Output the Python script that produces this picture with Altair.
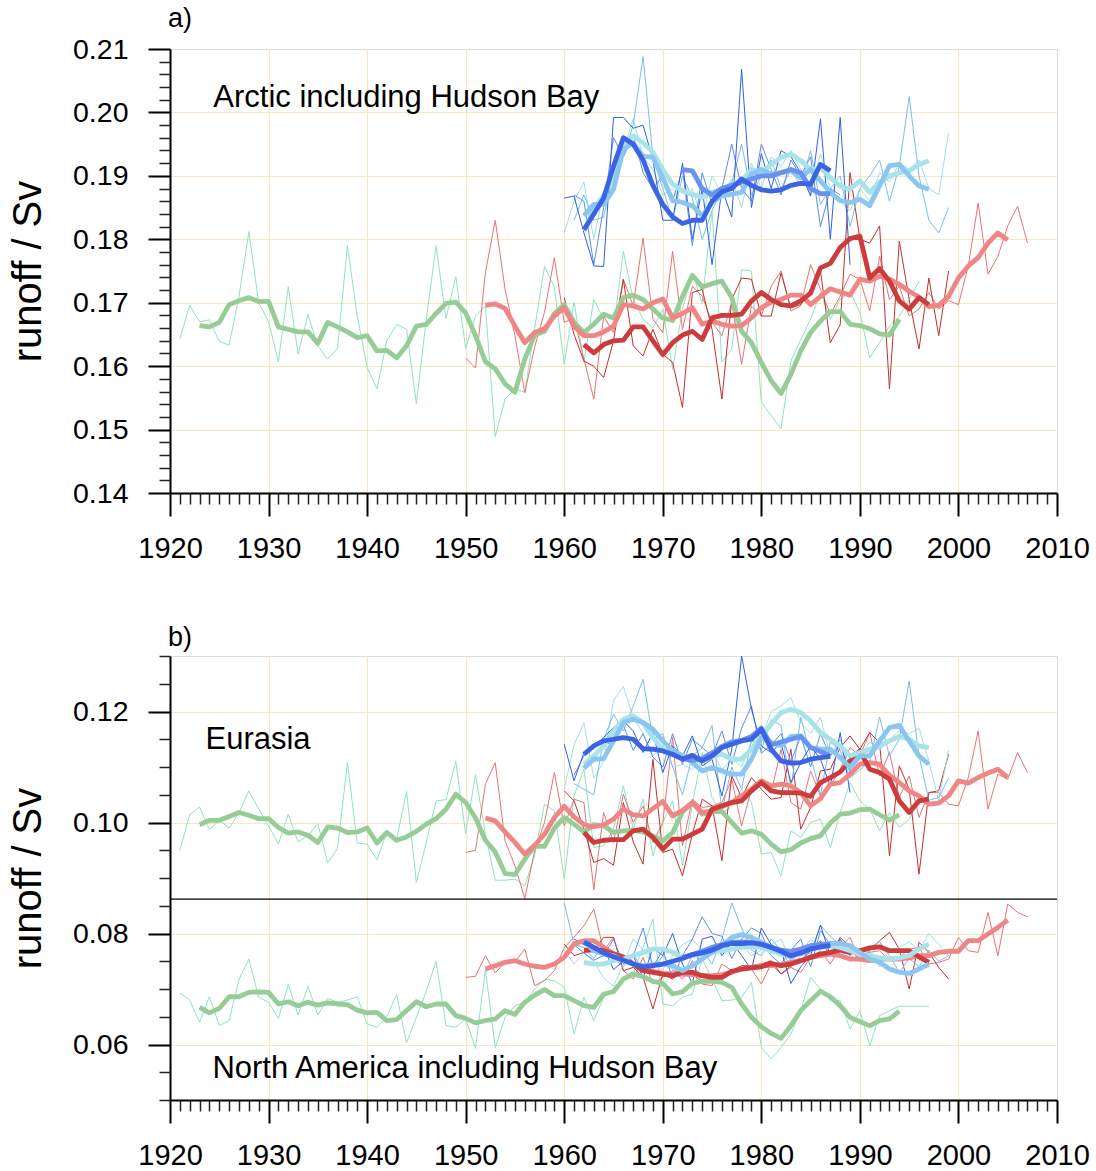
import altair as alt
import pandas as pd

FONT = "Liberation Sans"
GRID = "#f5e7c4"

# ---------------- axis ticks ----------------
X_MAJOR = [1920, 1930, 1940, 1950, 1960, 1970, 1980, 1990, 2000, 2010]
X_GRID = [1930, 1940, 1950, 1960, 1970, 1980, 1990, 2000]
X_MINOR = [y for y in range(1921, 2010) if y % 10 != 0]
A_Y_MAJOR = [0.14, 0.15, 0.16, 0.17, 0.18, 0.19, 0.20, 0.21]
A_Y_GRID = [0.15, 0.16, 0.17, 0.18, 0.19, 0.20]
A_Y_MINOR = [round(0.14 + 0.002 * i, 3) for i in range(36) if i % 5 != 0]
B_Y_MAJOR = [0.06, 0.08, 0.10, 0.12]
B_Y_GRID = [0.06, 0.08, 0.10, 0.12]
B_Y_MINOR = [0.05, 0.055, 0.065, 0.07, 0.075, 0.085, 0.09, 0.095, 0.105, 0.11, 0.115, 0.125, 0.13]
B_SEPARATOR = [0.0862]

MODELS = ["green", "salmon", "dred", "turq", "sky", "corn", "royal"]
THIN_COLORS = {"green": "#8ee3c2", "salmon": "#ea7272", "dred": "#c62e2e",
               "turq": "#9fe0ea", "sky": "#78bdf0", "corn": "#5b8def", "royal": "#2f5fe6"}
THICK_COLORS = {"green": "#96cd96", "salmon": "#f08585", "dred": "#cc3c3c",
                "turq": "#a8e3ea", "sky": "#8ac6f0", "corn": "#6792ee", "royal": "#3b63e3"}

# ---------------- panel a : Arctic including Hudson Bay ----------------
A_GREEN_THIN_START = 1921
A_GREEN_THIN = [0.1643, 0.1696, 0.1670, 0.1673, 0.1639, 0.1633, 0.1710, 0.1812, 0.1700, 0.1670,
                0.1607, 0.1725, 0.1619, 0.1681, 0.1632, 0.1611, 0.1628, 0.1790, 0.1679, 0.1598,
                0.1564, 0.1640, 0.1666, 0.1658, 0.1541, 0.1674, 0.1790, 0.1675, 0.1741, 0.1628,
                0.1679, 0.1695, 0.1489, 0.1548, 0.1564, 0.1559, 0.1660, 0.1757, 0.1724, 0.1603,
                0.1701, 0.1606, 0.1705, 0.1674, 0.1658, 0.1781, 0.1705, 0.1674, 0.1660, 0.1690,
                0.1595, 0.1690, 0.1747, 0.1700, 0.1845, 0.1606, 0.1627, 0.1752, 0.1750, 0.1543,
                0.1522, 0.1501, 0.1608, 0.1642, 0.1674, 0.1716, 0.1674, 0.1705, 0.1718, 0.1684,
                0.1613, 0.1637, 0.1663, 0.1679, 0.1705, 0.1734]
A_GREEN_THICK_START = 1923
A_GREEN_THICK = [0.1664, 0.1662, 0.1669, 0.1697, 0.1703, 0.1708, 0.1702, 0.1702,
                 0.1662, 0.1658, 0.1654, 0.1654, 0.1636, 0.1669, 0.1662, 0.1654, 0.1645, 0.1648,
                 0.1624, 0.1625, 0.1613, 0.1632, 0.1663, 0.1666, 0.1683, 0.1699, 0.1701, 0.1684,
                 0.1648, 0.1607, 0.1596, 0.1572, 0.1559, 0.1611, 0.1649, 0.1655, 0.1683, 0.1697,
                 0.1669, 0.1653, 0.1666, 0.1682, 0.1676, 0.1708, 0.1712, 0.1705, 0.1690, 0.1676,
                 0.1672, 0.1710, 0.1743, 0.1725, 0.1730, 0.1734, 0.1708, 0.1655, 0.1637, 0.1606,
                 0.1577, 0.1557, 0.1587, 0.1624, 0.1653, 0.1671, 0.1686, 0.1686, 0.1666, 0.1664,
                 0.1659, 0.1651, 0.1649, 0.1674]
A_SALMON_THIN_START = 1950
A_SALMON_THIN = [0.1613, 0.1597, 0.1747, 0.1830, 0.1721, 0.1648, 0.1558, 0.1630, 0.1685, 0.1771,
                 0.1669, 0.1676, 0.1611, 0.1548, 0.1679, 0.1653, 0.1737, 0.1695, 0.1802, 0.1674,
                 0.1653, 0.1781, 0.1658, 0.1726, 0.1710, 0.1669, 0.1648, 0.1700, 0.1603, 0.1695,
                 0.1679, 0.1726, 0.1750, 0.1687, 0.1695, 0.1760, 0.1721, 0.1682, 0.1710, 0.1745,
                 0.1737, 0.1687, 0.1773, 0.1705, 0.1726, 0.1679, 0.1690, 0.1716, 0.1690, 0.1703,
                 0.1697, 0.1758, 0.1857, 0.1745, 0.1773, 0.1821, 0.1852, 0.1794]
A_SALMON_THICK_START = 1952
A_SALMON_THICK = [0.1696, 0.1698, 0.1691, 0.1663, 0.1637, 0.1653, 0.1659, 0.1679,
                  0.1692, 0.1663, 0.1648, 0.1648, 0.1654, 0.1663, 0.1697, 0.1695, 0.1690, 0.1700,
                  0.1706, 0.1676, 0.1683, 0.1692, 0.1666, 0.1671, 0.1666, 0.1663, 0.1664, 0.1676,
                  0.1692, 0.1701, 0.1705, 0.1712, 0.1712, 0.1697, 0.1710, 0.1722, 0.1717, 0.1712,
                  0.1737, 0.1734, 0.1742, 0.1737, 0.1729, 0.1718, 0.1709, 0.1694, 0.1696, 0.1710,
                  0.1739, 0.1758, 0.1771, 0.1794, 0.1810, 0.1799]
A_DRED_THIN_START = 1960
A_DRED_THIN = [0.1708, 0.1650, 0.1608, 0.1600, 0.1582, 0.1640, 0.1737, 0.1632, 0.1616, 0.1658,
               0.1619, 0.1606, 0.1535, 0.1716, 0.1721, 0.1658, 0.1548, 0.1705, 0.1739, 0.1737,
               0.1679, 0.1679, 0.1747, 0.1692, 0.1697, 0.1721, 0.1750, 0.1637, 0.1665, 0.1905,
               0.1800, 0.1794, 0.1821, 0.1564, 0.1797, 0.1705, 0.1627, 0.1739, 0.1648, 0.1750]
A_DRED_THICK_START = 1962
A_DRED_THICK = [0.1634, 0.1621, 0.1634, 0.1640, 0.1641, 0.1662, 0.1662, 0.1640,
                0.1618, 0.1637, 0.1649, 0.1655, 0.1642, 0.1676, 0.1680, 0.1680, 0.1682, 0.1703,
                0.1716, 0.1705, 0.1697, 0.1695, 0.1703, 0.1715, 0.1755, 0.1762, 0.1787, 0.1801,
                0.1805, 0.1739, 0.1754, 0.1734, 0.1703, 0.1690, 0.1708, 0.1697]
A_ROYAL_THIN_START = 1960
A_ROYAL_THIN = [0.1865, 0.1868, 0.1810, 0.1758, 0.1757, 0.1992, 0.1992, 0.1975, 0.1980, 0.1925,
                0.1830, 0.1830, 0.1920, 0.1800, 0.1880, 0.1760, 0.1880, 0.1835, 0.2068, 0.1850,
                0.1935, 0.1880, 0.1940, 0.1930, 0.1905, 0.1868, 0.1990, 0.1800, 0.1992, 0.1760]
A_ROYAL_THICK_START = 1962
A_ROYAL_THICK = [0.1815, 0.1840, 0.1865, 0.1915, 0.1960, 0.1950, 0.1925, 0.1885,
                 0.1855, 0.1835, 0.1825, 0.1830, 0.1830, 0.1860, 0.1875, 0.1880, 0.1895, 0.1885,
                 0.1878, 0.1876, 0.1878, 0.1885, 0.1888, 0.1887, 0.1918, 0.1908]
A_CORN_THIN_START = 1961
A_CORN_THIN = [0.1870, 0.1860, 0.1760, 0.1850, 0.1960, 0.1930, 0.1965, 0.1905, 0.1880,
               0.1900, 0.1860, 0.1910, 0.1790, 0.1905, 0.1855, 0.1880, 0.1950, 0.1880, 0.1860,
               0.1950, 0.1910, 0.1870, 0.1925, 0.1900, 0.1930, 0.1820, 0.1880, 0.1870]
A_CORN_THICK_START = 1972
A_CORN_THICK = [0.1910, 0.1908, 0.1880, 0.1870, 0.1880, 0.1885, 0.1890, 0.1895,
                0.1900, 0.1900, 0.1905, 0.1910, 0.1905, 0.1880, 0.1872, 0.1872]
A_SKY_THIN_START = 1961
A_SKY_THIN = [0.1830, 0.1870, 0.1830, 0.1835, 0.1905, 0.1930, 0.1980, 0.2088, 0.1930,
              0.1880, 0.1830, 0.1900, 0.1865, 0.1800, 0.1845, 0.1880, 0.1890, 0.1950, 0.1870,
              0.1900, 0.1925, 0.1880, 0.1910, 0.1885, 0.1940, 0.1855, 0.1880, 0.1900, 0.1820,
              0.1880, 0.1900, 0.1925, 0.1860, 0.1915, 0.2025, 0.1900, 0.1830, 0.1810, 0.1850]
A_SKY_THICK_START = 1962
A_SKY_THICK = [0.1837, 0.1855, 0.1855, 0.1879, 0.1942, 0.1952, 0.1931, 0.1929,
               0.1897, 0.1861, 0.1858, 0.1853, 0.1837, 0.1858, 0.1869, 0.1871, 0.1874, 0.1903,
               0.1910, 0.1903, 0.1905, 0.1908, 0.1897, 0.1910, 0.1892, 0.1874, 0.1861, 0.1858,
               0.1863, 0.1853, 0.1884, 0.1916, 0.1918, 0.1900, 0.1884, 0.1879]
A_TURQ_THIN_START = 1960
A_TURQ_THIN = [0.1810, 0.1860, 0.1890, 0.1800, 0.1875, 0.1920, 0.1940, 0.1990, 0.1930, 0.1910,
               0.1870, 0.1880, 0.1855, 0.1880, 0.1830, 0.1900, 0.1870, 0.1895, 0.1850, 0.1920,
               0.1880, 0.1930, 0.1915, 0.1940, 0.1910, 0.1870, 0.1935, 0.1880, 0.1860, 0.1845,
               0.1880, 0.1860, 0.1905, 0.1890, 0.1920, 0.1910, 0.1925, 0.1880, 0.1870, 0.1968]
A_TURQ_THICK_START = 1962
A_TURQ_THICK = [0.1813, 0.1848, 0.1869, 0.1900, 0.1947, 0.1963, 0.1952, 0.1937,
                0.1910, 0.1887, 0.1876, 0.1871, 0.1866, 0.1874, 0.1879, 0.1884, 0.1892, 0.1910,
                0.1905, 0.1918, 0.1929, 0.1934, 0.1924, 0.1910, 0.1913, 0.1897, 0.1884, 0.1879,
                0.1892, 0.1874, 0.1890, 0.1900, 0.1905, 0.1908, 0.1918, 0.1924]

# ---------------- panel b : Eurasia ----------------
EU_GREEN_THIN_START = 1921
EU_GREEN_THIN = [0.0950, 0.1014, 0.1028, 0.0987, 0.1004, 0.0990, 0.1018, 0.1057, 0.1024, 0.0994,
                 0.0961, 0.1015, 0.0965, 0.0976, 0.0998, 0.0927, 0.0953, 0.1108, 0.0963, 0.0961,
                 0.0933, 0.0982, 0.0970, 0.1056, 0.0892, 0.0964, 0.1039, 0.1041, 0.1110, 0.0980,
                 0.1086, 0.0979, 0.0896, 0.0896, 0.0898, 0.0886, 0.0940, 0.1033, 0.1021, 0.0898,
                 0.1048, 0.1096, 0.0955, 0.0958, 0.0988, 0.1066, 0.0988, 0.1042, 0.0940, 0.1000,
                 0.1039, 0.0922, 0.1033, 0.1126, 0.1045, 0.1015, 0.1030, 0.1060, 0.1036, 0.0943,
                 0.0946, 0.0904, 0.0985, 0.0973, 0.1000, 0.1006, 0.0955, 0.1018, 0.1072, 0.1039,
                 0.1024, 0.0985, 0.1018, 0.0991, 0.1006, 0.1042]
EU_GREEN_THICK_START = 1923
EU_GREEN_THICK = [0.0996, 0.1004, 0.1004, 0.1011, 0.1018, 0.1013, 0.1007, 0.1007,
                  0.0991, 0.0981, 0.0983, 0.0977, 0.0964, 0.0992, 0.0990, 0.0982, 0.0983, 0.0990,
                  0.0963, 0.0982, 0.0968, 0.0974, 0.0984, 0.0997, 0.1007, 0.1024, 0.1051, 0.1036,
                  0.1008, 0.0968, 0.0947, 0.0908, 0.0906, 0.0934, 0.0957, 0.0957, 0.0990, 0.1009,
                  0.0997, 0.0983, 0.0996, 0.0994, 0.0982, 0.0985, 0.0986, 0.0983, 0.0976, 0.0967,
                  0.0982, 0.1019, 0.1036, 0.1015, 0.1019, 0.1020, 0.1000, 0.0981, 0.0985, 0.0979,
                  0.0961, 0.0947, 0.0951, 0.0963, 0.0971, 0.0976, 0.0999, 0.1015, 0.1017, 0.1023,
                  0.1024, 0.1014, 0.1004, 0.1014]
EU_SALMON_THIN_START = 1950
EU_SALMON_THIN = [0.0946, 0.0950, 0.1069, 0.1108, 0.0967, 0.0922, 0.0863, 0.0949, 0.1000, 0.1090,
                  0.0994, 0.1042, 0.1036, 0.0879, 0.1018, 0.0964, 0.1051, 0.1000, 0.1030, 0.0964,
                  0.1000, 0.1153, 0.0958, 0.1042, 0.1027, 0.1030, 0.1036, 0.1078, 0.0994, 0.1060,
                  0.1072, 0.1054, 0.1132, 0.1036, 0.1024, 0.1093, 0.1048, 0.1066, 0.1096, 0.1135,
                  0.1120, 0.1162, 0.1084, 0.1126, 0.1045, 0.1084, 0.1009, 0.1054, 0.1054, 0.1033,
                  0.1030, 0.1081, 0.1165, 0.1024, 0.1087, 0.1078, 0.1126, 0.1090]
EU_SALMON_THICK_START = 1952
EU_SALMON_THICK = [0.1008, 0.1003, 0.0983, 0.0964, 0.0943, 0.0959, 0.0979, 0.1009,
                   0.1029, 0.1010, 0.0996, 0.0992, 0.0996, 0.1006, 0.1024, 0.1014, 0.1012, 0.1025,
                   0.1038, 0.1012, 0.1022, 0.1036, 0.1018, 0.1021, 0.1029, 0.1036, 0.1048, 0.1060,
                   0.1075, 0.1066, 0.1069, 0.1066, 0.1054, 0.1030, 0.1043, 0.1069, 0.1072, 0.1087,
                   0.1105, 0.1108, 0.1105, 0.1085, 0.1072, 0.1057, 0.1048, 0.1033, 0.1035, 0.1048,
                   0.1075, 0.1071, 0.1081, 0.1089, 0.1096, 0.1081]
EU_DRED_THIN_START = 1960
EU_DRED_THIN = [0.1057, 0.1039, 0.0988, 0.0928, 0.0935, 0.0923, 0.1036, 0.0965, 0.0925, 0.1114,
                0.0946, 0.0952, 0.0904, 0.0979, 0.1042, 0.1030, 0.0931, 0.1084, 0.1045, 0.1081,
                0.1060, 0.1042, 0.1045, 0.1132, 0.0988, 0.1027, 0.1093, 0.1096, 0.1135, 0.1156,
                0.1132, 0.1162, 0.1144, 0.0940, 0.1102, 0.1060, 0.0907, 0.1054, 0.1057, 0.1123]
EU_DRED_THICK_START = 1962
EU_DRED_THICK = [0.0982, 0.0964, 0.0968, 0.0969, 0.0969, 0.0985, 0.0988, 0.0973,
                 0.0952, 0.0970, 0.0970, 0.0979, 0.0988, 0.1024, 0.1030, 0.1036, 0.1039, 0.1057,
                 0.1072, 0.1057, 0.1054, 0.1054, 0.1053, 0.1047, 0.1072, 0.1081, 0.1091, 0.1111,
                 0.1129, 0.1096, 0.1090, 0.1078, 0.1039, 0.1018, 0.1039, 0.1042]
EU_ROYAL_THIN_START = 1960
EU_ROYAL_THIN = [0.1141, 0.1075, 0.1126, 0.1138, 0.1153, 0.1171, 0.1183, 0.1165, 0.1126, 0.1162,
                 0.1090, 0.1138, 0.1120, 0.1156, 0.1102, 0.1114, 0.1048, 0.1132, 0.1300, 0.1204,
                 0.1138, 0.1126, 0.1144, 0.1072, 0.1108, 0.1138, 0.1114, 0.1066, 0.1162, 0.1054]
EU_ROYAL_THICK_START = 1962
EU_ROYAL_THICK = [0.1123, 0.1138, 0.1147, 0.1150, 0.1153, 0.1150, 0.1133, 0.1132,
                  0.1129, 0.1123, 0.1114, 0.1121, 0.1111, 0.1120, 0.1135, 0.1141, 0.1147, 0.1150,
                  0.1168, 0.1132, 0.1111, 0.1107, 0.1108, 0.1114, 0.1117, 0.1119]
EU_CORN_THIN_START = 1961
EU_CORN_THIN = [0.1085, 0.1120, 0.1135, 0.1145, 0.1140, 0.1175, 0.1130, 0.1160, 0.1118,
                0.1100, 0.1160, 0.1105, 0.1150, 0.1135, 0.1120, 0.1165, 0.1105, 0.1170, 0.1210,
                0.1125, 0.1140, 0.1160, 0.1110, 0.1155, 0.1100, 0.1160, 0.1120, 0.1140, 0.1090]
EU_CORN_THICK_START = 1972
EU_CORN_THICK = [0.1115, 0.1112, 0.1115, 0.1125, 0.1137, 0.1145, 0.1148, 0.1155,
                 0.1170, 0.1140, 0.1145, 0.1150, 0.1155, 0.1135, 0.1128, 0.1120]
EU_SKY_THIN_START = 1961
EU_SKY_THIN = [0.1070, 0.1060, 0.1050, 0.1150, 0.1195, 0.1165, 0.1210, 0.1258, 0.1150,
               0.1160, 0.1100, 0.1050, 0.1120, 0.1135, 0.1175, 0.1020, 0.1100, 0.1060, 0.1150,
               0.1130, 0.1185, 0.1175, 0.1060, 0.1190, 0.1120, 0.1050, 0.1145, 0.1130, 0.1080,
               0.1095, 0.1110, 0.1190, 0.1120, 0.1150, 0.1255, 0.1120, 0.1040, 0.1045, 0.1080]
EU_SKY_THICK_START = 1962
EU_SKY_THICK = [0.1098, 0.1114, 0.1115, 0.1147, 0.1180, 0.1186, 0.1180, 0.1168,
                0.1147, 0.1129, 0.1121, 0.1108, 0.1093, 0.1099, 0.1093, 0.1087, 0.1087, 0.1114,
                0.1153, 0.1144, 0.1138, 0.1155, 0.1156, 0.1135, 0.1132, 0.1132, 0.1117, 0.1099,
                0.1120, 0.1120, 0.1147, 0.1171, 0.1175, 0.1147, 0.1120, 0.1105]
EU_TURQ_THIN_START = 1960
EU_TURQ_THIN = [0.1060, 0.1140, 0.1180, 0.1080, 0.1110, 0.1220, 0.1245, 0.1190, 0.1160, 0.1120,
                0.1140, 0.1100, 0.1105, 0.1095, 0.1120, 0.1130, 0.1095, 0.1115, 0.1100, 0.1145,
                0.1150, 0.1200, 0.1210, 0.1225, 0.1180, 0.1160, 0.1190, 0.1120, 0.1150, 0.1100,
                0.1120, 0.1145, 0.1130, 0.1150, 0.1165, 0.1160, 0.1170, 0.1110, 0.1040, 0.1130]
EU_TURQ_THICK_START = 1962
EU_TURQ_THICK = [0.1105, 0.1120, 0.1138, 0.1165, 0.1186, 0.1192, 0.1180, 0.1153,
                 0.1132, 0.1126, 0.1120, 0.1114, 0.1111, 0.1119, 0.1123, 0.1114, 0.1114, 0.1132,
                 0.1156, 0.1177, 0.1198, 0.1204, 0.1198, 0.1183, 0.1162, 0.1150, 0.1138, 0.1120,
                 0.1126, 0.1132, 0.1138, 0.1147, 0.1155, 0.1150, 0.1138, 0.1135]

# ---------------- panel b : North America including Hudson Bay ----------------
NA_GREEN_THIN_START = 1921
NA_GREEN_THIN = [0.0693, 0.0680, 0.0640, 0.0686, 0.0634, 0.0643, 0.0717, 0.0754, 0.0685, 0.0676,
                 0.0647, 0.0708, 0.0653, 0.0705, 0.0653, 0.0683, 0.0676, 0.0680, 0.0686, 0.0637,
                 0.0631, 0.0650, 0.0690, 0.0603, 0.0649, 0.0696, 0.0750, 0.0634, 0.0631, 0.0646,
                 0.0593, 0.0735, 0.0594, 0.0649, 0.0670, 0.0676, 0.0700, 0.0718, 0.0715, 0.0703,
                 0.0619, 0.0685, 0.0643, 0.0685, 0.0697, 0.0718, 0.0727, 0.0775, 0.0826, 0.0673,
                 0.0670, 0.0685, 0.0691, 0.0754, 0.0718, 0.0679, 0.0680, 0.0685, 0.0712, 0.0595,
                 0.0574, 0.0595, 0.0619, 0.0661, 0.0721, 0.0700, 0.0679, 0.0679, 0.0628, 0.0661,
                 0.0598, 0.0652, 0.0661, 0.0669, 0.0669, 0.0669, 0.0669]
NA_GREEN_THICK_START = 1923
NA_GREEN_THICK = [0.0667, 0.0657, 0.0665, 0.0686, 0.0686, 0.0694, 0.0695, 0.0694,
                  0.0673, 0.0677, 0.0670, 0.0676, 0.0671, 0.0675, 0.0673, 0.0672, 0.0662, 0.0657,
                  0.0658, 0.0643, 0.0645, 0.0661, 0.0677, 0.0668, 0.0673, 0.0673, 0.0652, 0.0647,
                  0.0639, 0.0643, 0.0646, 0.0661, 0.0654, 0.0676, 0.0689, 0.0699, 0.0688, 0.0688,
                  0.0679, 0.0670, 0.0667, 0.0691, 0.0695, 0.0718, 0.0727, 0.0722, 0.0714, 0.0710,
                  0.0691, 0.0695, 0.0710, 0.0714, 0.0714, 0.0712, 0.0703, 0.0673, 0.0649, 0.0632,
                  0.0620, 0.0611, 0.0634, 0.0661, 0.0679, 0.0696, 0.0686, 0.0670, 0.0649, 0.0641,
                  0.0634, 0.0643, 0.0646, 0.0660]
NA_SALMON_THIN_START = 1950
NA_SALMON_THIN = [0.0721, 0.0723, 0.0760, 0.0729, 0.0748, 0.0749, 0.0772, 0.0706, 0.0715, 0.0733,
                  0.0775, 0.0793, 0.0814, 0.0844, 0.0769, 0.0793, 0.0733, 0.0718, 0.0757, 0.0709,
                  0.0721, 0.0733, 0.0718, 0.0751, 0.0709, 0.0706, 0.0745, 0.0733, 0.0739, 0.0736,
                  0.0709, 0.0745, 0.0727, 0.0739, 0.0730, 0.0757, 0.0769, 0.0745, 0.0775, 0.0793,
                  0.0751, 0.0766, 0.0769, 0.0751, 0.0757, 0.0772, 0.0775, 0.0745, 0.0748, 0.0754,
                  0.0793, 0.0769, 0.0766, 0.0838, 0.0760, 0.0853, 0.0838, 0.0830]
NA_SALMON_THICK_START = 1952
NA_SALMON_THICK = [0.0736, 0.0742, 0.0748, 0.0751, 0.0745, 0.0741, 0.0739, 0.0745,
                   0.0757, 0.0781, 0.0787, 0.0787, 0.0775, 0.0764, 0.0758, 0.0745, 0.0738, 0.0732,
                   0.0728, 0.0727, 0.0727, 0.0726, 0.0724, 0.0724, 0.0726, 0.0730, 0.0736, 0.0739,
                   0.0742, 0.0742, 0.0744, 0.0748, 0.0751, 0.0757, 0.0760, 0.0763, 0.0760, 0.0754,
                   0.0754, 0.0751, 0.0754, 0.0754, 0.0754, 0.0756, 0.0760, 0.0760, 0.0766, 0.0768,
                   0.0768, 0.0787, 0.0787, 0.0799, 0.0811, 0.0824]
NA_DRED_THIN_START = 1960
NA_DRED_THIN = [0.0781, 0.0760, 0.0766, 0.0769, 0.0793, 0.0793, 0.0733, 0.0739, 0.0721, 0.0664,
                0.0727, 0.0718, 0.0733, 0.0727, 0.0712, 0.0721, 0.0727, 0.0733, 0.0742, 0.0742,
                0.0745, 0.0751, 0.0727, 0.0742, 0.0751, 0.0769, 0.0787, 0.0760, 0.0793, 0.0775,
                0.0751, 0.0769, 0.0787, 0.0802, 0.0772, 0.0700, 0.0784, 0.0766, 0.0739, 0.0718]
NA_DRED_THICK_START = 1962
NA_DRED_THICK = [0.0770, 0.0770, 0.0769, 0.0763, 0.0757, 0.0745, 0.0733, 0.0730,
                 0.0727, 0.0724, 0.0730, 0.0730, 0.0724, 0.0721, 0.0721, 0.0732, 0.0736, 0.0738,
                 0.0740, 0.0746, 0.0742, 0.0745, 0.0751, 0.0757, 0.0763, 0.0766, 0.0770, 0.0766,
                 0.0769, 0.0774, 0.0776, 0.0769, 0.0769, 0.0769, 0.0758, 0.0748]
NA_ROYAL_THIN_START = 1961
NA_ROYAL_THIN = [0.0790, 0.0780, 0.0770, 0.0775, 0.0735, 0.0750, 0.0760, 0.0720, 0.0775,
                 0.0760, 0.0800, 0.0745, 0.0710, 0.0790, 0.0795, 0.0760, 0.0785, 0.0760, 0.0735,
                 0.0810, 0.0780, 0.0770, 0.0710, 0.0740, 0.0760, 0.0815, 0.0760, 0.0790, 0.0760]
NA_ROYAL_THICK_START = 1962
NA_ROYAL_THICK = [0.0785, 0.0775, 0.0765, 0.0758, 0.0752, 0.0745, 0.0740, 0.0742,
                  0.0745, 0.0750, 0.0755, 0.0762, 0.0765, 0.0770, 0.0778, 0.0782, 0.0782, 0.0783,
                  0.0781, 0.0775, 0.0768, 0.0760, 0.0765, 0.0772, 0.0776, 0.0778]
NA_CORN_THIN_START = 1961
NA_CORN_THIN = [0.0780, 0.0765, 0.0752, 0.0760, 0.0790, 0.0745, 0.0760, 0.0810, 0.0740,
                0.0770, 0.0720, 0.0760, 0.0790, 0.0830, 0.0800, 0.0795, 0.0755, 0.0790, 0.0810,
                0.0800, 0.0760, 0.0745, 0.0770, 0.0790, 0.0740, 0.0805, 0.0780, 0.0760, 0.0770]
NA_CORN_THICK_START = 1972
NA_CORN_THICK = [0.0757, 0.0762, 0.0768, 0.0775, 0.0780, 0.0784, 0.0785, 0.0784,
                 0.0780, 0.0775, 0.0770, 0.0768, 0.0772, 0.0778, 0.0780, 0.0781]
NA_SKY_THIN_START = 1960
NA_SKY_THIN = [0.0855, 0.0780, 0.0775, 0.0755, 0.0780, 0.0755, 0.0740, 0.0765, 0.0730, 0.0735,
               0.0760, 0.0735, 0.0725, 0.0760, 0.0770, 0.0745, 0.0790, 0.0855, 0.0810, 0.0770,
               0.0760, 0.0790, 0.0770, 0.0740, 0.0760, 0.0765, 0.0815, 0.0795, 0.0780, 0.0760,
               0.0750, 0.0775, 0.0785, 0.0760, 0.0730, 0.0755, 0.0740, 0.0770, 0.0750, 0.0760]
NA_SKY_THICK_START = 1962
NA_SKY_THICK = [0.0787, 0.0769, 0.0763, 0.0760, 0.0751, 0.0745, 0.0742, 0.0745,
                0.0745, 0.0742, 0.0733, 0.0742, 0.0754, 0.0766, 0.0778, 0.0793, 0.0798, 0.0793,
                0.0784, 0.0775, 0.0766, 0.0757, 0.0766, 0.0775, 0.0781, 0.0782, 0.0782, 0.0778,
                0.0766, 0.0754, 0.0748, 0.0736, 0.0730, 0.0728, 0.0736, 0.0745]
NA_TURQ_THIN_START = 1960
NA_TURQ_THIN = [0.0770, 0.0745, 0.0765, 0.0750, 0.0720, 0.0705, 0.0745, 0.0790, 0.0770, 0.0745,
                0.0735, 0.0760, 0.0780, 0.0790, 0.0770, 0.0775, 0.0765, 0.0790, 0.0780, 0.0760,
                0.0770, 0.0780, 0.0790, 0.0750, 0.0765, 0.0790, 0.0775, 0.0770, 0.0785, 0.0750,
                0.0765, 0.0770, 0.0740, 0.0770, 0.0775, 0.0785, 0.0770, 0.0800, 0.0780, 0.0760]
NA_TURQ_THICK_START = 1962
NA_TURQ_THICK = [0.0748, 0.0745, 0.0745, 0.0751, 0.0754, 0.0760, 0.0766, 0.0772,
                 0.0772, 0.0766, 0.0757, 0.0760, 0.0763, 0.0766, 0.0769, 0.0772, 0.0775, 0.0776,
                 0.0775, 0.0769, 0.0763, 0.0760, 0.0766, 0.0772, 0.0775, 0.0778, 0.0775, 0.0769,
                 0.0763, 0.0760, 0.0756, 0.0754, 0.0756, 0.0760, 0.0772, 0.0781]

A_LABELS = ["Arctic including Hudson Bay"]
A_LABEL_X = [1924.4]
A_LABEL_Y = [0.2023]
B_LABELS = ["Eurasia", "North America including Hudson Bay"]
B_LABEL_X = [1923.6, 1924.3]
B_LABEL_Y = [0.1149, 0.0556]


def series(region, model, start, values):
    return pd.DataFrame({"year": [start + i for i in range(len(values))],
                         "value": values, "region": region, "model": model})


G = globals()
A_THIN, A_THICK, B_THIN, B_THICK = [], [], [], []
for m in MODELS:
    key = m.upper()
    A_THIN.append(series("arctic", m, G[f"A_{key}_THIN_START"], G[f"A_{key}_THIN"]))
    A_THICK.append(series("arctic", m, G[f"A_{key}_THICK_START"], G[f"A_{key}_THICK"]))
    for reg in ["EU", "NA"]:
        B_THIN.append(series(reg, m, G[f"{reg}_{key}_THIN_START"], G[f"{reg}_{key}_THIN"]))
        B_THICK.append(series(reg, m, G[f"{reg}_{key}_THICK_START"], G[f"{reg}_{key}_THICK"]))
A_THIN = pd.concat(A_THIN)
A_THICK = pd.concat(A_THICK)
B_THIN = pd.concat(B_THIN)
B_THICK = pd.concat(B_THICK)

W, H = 887, 444
XS = alt.Scale(domain=[1920, 2010], nice=False, zero=False)


def panel(thin, thick, ydomain, ymajor, ygrid, yminor, title, labels, lx, ly, sep=None):
    YS = alt.Scale(domain=ydomain, nice=False, zero=False)
    dummy = pd.DataFrame({"year": [1960], "value": [ydomain[0]]})
    grid = alt.Chart(dummy).mark_point(opacity=0).encode(
        x=alt.X("year:Q", scale=XS, axis=alt.Axis(
            values=X_GRID, orient="bottom", title=None, labels=False, domain=False,
            ticks=False, grid=True, gridColor=GRID, gridWidth=1.2)),
        y=alt.Y("value:Q", scale=YS, axis=alt.Axis(
            values=ygrid, orient="left", title=None, labels=False, domain=False,
            ticks=False, grid=True, gridColor=GRID, gridWidth=1.2)),
    )
    major = alt.Chart(dummy).mark_point(opacity=0).encode(
        x=alt.X("year:Q", scale=XS, axis=alt.Axis(
            values=X_MAJOR, format="d", orient="bottom", title=None,
            tickSize=23, tickWidth=2, tickColor="black", domainColor="black", domainWidth=2,
            labelFontSize=29, labelFont=FONT, labelColor="black", labelPadding=18,
            labelFlush=False, labelOverlap=False, grid=False)),
        y=alt.Y("value:Q", scale=YS, axis=alt.Axis(
            values=ymajor, format=".2f", orient="left", title="runoff / Sv",
            titleFontSize=40, titleFont=FONT, titleFontWeight="normal", titleColor="black",
            titlePadding=24,
            tickSize=22, tickWidth=2, tickColor="black", domainColor="black", domainWidth=2,
            labelFontSize=28.5, labelFont=FONT, labelColor="black", labelPadding=20,
            labelFlush=False, labelOverlap=False, grid=False)),
    )
    minor = alt.Chart(dummy).mark_point(opacity=0).encode(
        x=alt.X("year:Q", scale=XS, axis=alt.Axis(
            values=X_MINOR, orient="bottom", title=None, labels=False, domain=False,
            grid=False, tickSize=11, tickWidth=1.5, tickColor="#222222")),
        y=alt.Y("value:Q", scale=YS, axis=alt.Axis(
            values=yminor, orient="left", title=None, labels=False, domain=False,
            grid=False, tickSize=11, tickWidth=1.5, tickColor="#222222")),
    )
    layers = [grid, major, minor]
    for m in MODELS:
        layers.append(alt.Chart(thin[thin.model == m]).mark_line(
            color=THIN_COLORS[m], strokeWidth=1).encode(
            x=alt.X("year:Q", scale=XS, axis=None),
            y=alt.Y("value:Q", scale=YS, axis=None),
            detail="region:N"))
    for m in MODELS:
        layers.append(alt.Chart(thick[thick.model == m]).mark_line(
            color=THICK_COLORS[m], strokeWidth=4.8, strokeJoin="round").encode(
            x=alt.X("year:Q", scale=XS, axis=None),
            y=alt.Y("value:Q", scale=YS, axis=None),
            detail="region:N"))
    if sep is not None:
        layers.append(alt.Chart(pd.DataFrame({"y": sep})).mark_rule(
            color="black", strokeWidth=1.3).encode(y=alt.Y("y:Q", scale=YS, axis=None)))
    tdf = pd.DataFrame({"x": lx, "y": ly, "label": labels})
    layers.append(alt.Chart(tdf).mark_text(
        align="left", baseline="middle", fontSize=31, font=FONT, color="black").encode(
        x=alt.X("x:Q", scale=XS, axis=None),
        y=alt.Y("y:Q", scale=YS, axis=None),
        text="label:N"))
    return alt.layer(*layers).resolve_axis(x="independent", y="independent").properties(
        width=W, height=H,
        title=alt.Title(title, anchor="start", frame="group", fontSize=27, font=FONT,
                        fontWeight="normal", color="black", offset=2, dx=-2))


pa = panel(A_THIN, A_THICK, [0.14, 0.21], A_Y_MAJOR, A_Y_GRID, A_Y_MINOR, "a)",
           A_LABELS, A_LABEL_X, A_LABEL_Y)
pb = panel(B_THIN, B_THICK, [0.05, 0.13], B_Y_MAJOR, B_Y_GRID, B_Y_MINOR, "b)",
           B_LABELS, B_LABEL_X, B_LABEL_Y, sep=B_SEPARATOR)

chart = alt.vconcat(pa, pb, spacing=59).properties(
    padding={"left": 8, "top": 4, "right": 5, "bottom": 0}
).configure_view(stroke="black", strokeWidth=2).configure(background="white")

chart.save("out.html", embed_options={"renderer": "svg", "actions": False})
